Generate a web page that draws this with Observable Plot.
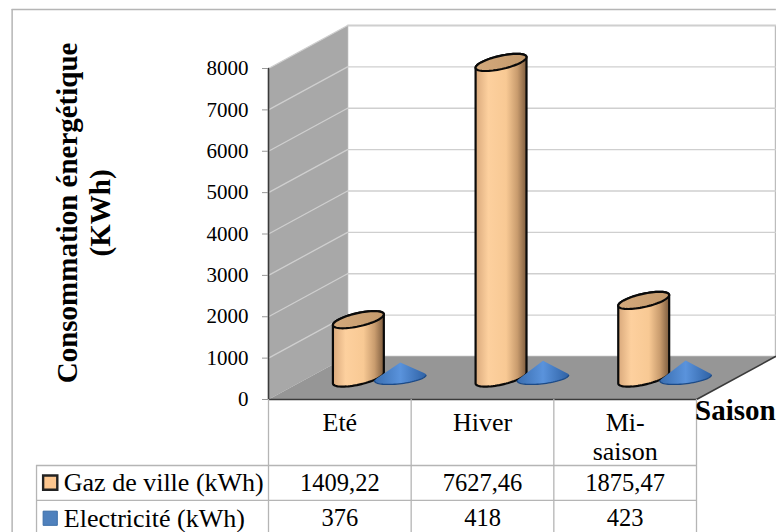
<!DOCTYPE html>
<html>
<head>
<meta charset="utf-8">
<script src="https://cdn.jsdelivr.net/npm/d3@7"></script>
<script src="https://cdn.jsdelivr.net/npm/@observablehq/plot@0.6"></script>
<style>html,body{margin:0;padding:0;background:#fff}svg{display:block}</style>
</head>
<body>
<div id="chart"></div>
<script>
const categories = ["Eté", "Hiver", "Mi-\nsaison"];
const gazLabels = ["1409,22", "7627,46", "1875,47"];
const elecLabels = ["376", "418", "423"];
const gaz = [1409.22, 7627.46, 1875.47];
const elec = [376, 418, 423];
const yTicks = [0, 1000, 2000, 3000, 4000, 5000, 6000, 7000, 8000];
const seriesNames = ["Gaz de ville (kWh)", "Electricité (kWh)"];

// oblique projection of the 3D box, in scale units
const depthX = 0.554, depthY = 1039;
const P = (c, v, d) => ({x: c + depthX * d, y: v + depthY * d});
const ellipse = (c, v, a = 0.14, D = 0.2) => d3.range(0, 360, 5).map(deg => {
  const t = deg * Math.PI / 180;
  return P(c + a * Math.cos(t), v, 0.5 + D * Math.sin(t));
});
const hull = pts => d3.polygonHull(pts.map(p => [p.x, p.y])).map(([x, y]) => ({x, y}));
const closed = (pts, o) => Plot.line(pts, {x: "x", y: "y", curve: "linear-closed", ...o});

const offset = 0.147;
const marks = [];

// gradients
marks.push(() => {
  const defs = d3.create("svg:defs");
  const grad = (id, stops) => {
    const g = defs.append("linearGradient").attr("id", id);
    stops.forEach(([o, c]) => g.append("stop").attr("offset", o).attr("stop-color", c));
  };
  grad("gazBody", [[0, "#d9a97c"], [0.25, "#fdd09e"], [0.6, "#f8c994"], [0.82, "#c99c6e"], [1, "#7d5c3e"]]);
  grad("gazTop", [[0, "#d3a97c"], [1, "#c49a6c"]]);
  grad("elecBody", [[0, "#3a6eb0"], [0.5, "#5a93dc"], [1, "#2f62a5"]]);
  return defs.node();
});

// outer frame
const frameLeft = -1.797, frameTop = 9426, pageBottom = -3214, pageRight = 3.56;
marks.push(Plot.ruleX([frameLeft], {y1: pageBottom, y2: frameTop, stroke: "#b5b5b5", strokeWidth: 1.5}));
marks.push(Plot.ruleY([frameTop], {x1: frameLeft, x2: pageRight, stroke: "#b5b5b5", strokeWidth: 1.5}));

// walls
marks.push(closed([P(0, 0, 1), P(3, 0, 1), P(3, 8000, 1), P(0, 8000, 1)], {fill: "white", stroke: "#bcbcbc", strokeWidth: 1.5}));
marks.push(closed([P(0, 0, 0), P(0, 0, 1), P(0, 8000, 1), P(0, 8000, 0)], {fill: "#a8a8a8", stroke: "none"}));
marks.push(closed([P(0, 0, 0), P(3, 0, 0), P(3, 0, 1), P(0, 0, 1)], {fill: "#969696", stroke: "none"}));
for (const v of yTicks.slice(1)) {
  marks.push(Plot.line([P(0, v, 0), P(0, v, 1), P(3, v, 1)], {x: "x", y: "y", stroke: "#cfcfcf", strokeWidth: 1.3}));
}
// box edges
marks.push(Plot.line([P(0, 8000, 0), P(0, 0, 0), P(3, 0, 0), P(3, 0, 1)], {x: "x", y: "y", stroke: "#3a3a3a", strokeWidth: 1.6}));

// columns and cones
categories.forEach((_, i) => {
  const c = i + 0.5;
  const base = ellipse(c - offset, 0), top = ellipse(c - offset, gaz[i]);
  marks.push(closed(hull([...base, ...top]), {fill: "url(#gazBody)", stroke: "#0a0a0a", strokeWidth: 2.2}));
  marks.push(closed(top, {fill: "url(#gazTop)", stroke: "#0a0a0a", strokeWidth: 2.2}));
  const cBase = ellipse(c + offset, 0, 0.16, 0.15);
  marks.push(closed(hull([...cBase, P(c + offset, elec[i], 0.5)]), {fill: "url(#elecBody)", stroke: "none"}));
  marks.push(Plot.line([...cBase.slice(41), ...cBase.slice(0, 6)], {x: "x", y: "y", stroke: "#1c4a86", strokeWidth: 1.3}));
});

// data table
const headerRow = -1595, gazRow = -2440, legendLeft = -1.626;
marks.push(Plot.ruleX([0, 1, 2, 3], {y1: 0, y2: pageBottom, stroke: "#b5b5b5", strokeWidth: 1.3}));
marks.push(Plot.ruleY([headerRow, gazRow], {x1: legendLeft, x2: 3, stroke: "#b5b5b5", strokeWidth: 1.3}));
marks.push(Plot.ruleX([legendLeft], {y1: headerRow, y2: pageBottom, stroke: "#b5b5b5", strokeWidth: 1.3}));

const rowGaz = -2010, rowElec = -2870, rowHead = -720;
const at = i => i + 0.5;
marks.push(Plot.text(categories, {x: (_, i) => at(i), y: rowHead, text: d => d, lineAnchor: "top", lineHeight: 1.12, dy: -19, fontSize: 26, fill: "#000"}));
marks.push(Plot.text(gazLabels, {x: (_, i) => at(i), y: rowGaz, text: d => d, fontSize: 24.5, fill: "#000"}));
marks.push(Plot.text(elecLabels, {x: (_, i) => at(i), y: rowElec, text: d => d, fontSize: 24.5, fill: "#000"}));
marks.push(Plot.text(seriesNames, {x: -1.435, y: (_, i) => i ? rowElec : rowGaz, text: d => d, textAnchor: "start", fontSize: 26, fill: "#000"}));
marks.push(Plot.dot(seriesNames, {x: -1.53, y: (_, i) => i ? rowElec : rowGaz, symbol: "square", r: 8,
  fill: (_, i) => i ? "#4f81bd" : "#fcc68f", stroke: (_, i) => i ? "#3d6fa8" : "#222", strokeWidth: (_, i) => i ? 1 : 2.4}));
marks.push(Plot.text(["Saison"], {x: 2.99, y: -260, text: d => d, textAnchor: "start", fontSize: 29, fontWeight: "bold", fill: "#000"}));
marks.push(Plot.text(["Consommation énergétique\n(KWh)"], {x: -1.30, y: 4510, text: d => d, rotate: -90, fontSize: 29, fontWeight: "bold", lineHeight: 1.15, fill: "#000"}));

marks.push(Plot.axisY(yTicks, {anchor: "left", tickSize: 6, tickPadding: 14, fontSize: 21, label: null, tickFormat: "d", stroke: "#999", fill: "#000", textStroke: "none"}));

const chart = Plot.plot({
  width: 776, height: 532,
  marginLeft: 268, marginRight: 80, marginTop: 68, marginBottom: 133,
  x: {domain: [0, 3], axis: null},
  y: {domain: [0, 8000]},
  style: {fontFamily: "'Liberation Serif', serif", background: "#fff", overflow: "hidden"},
  marks
});
document.getElementById("chart").appendChild(chart);
</script>
</body>
</html>
